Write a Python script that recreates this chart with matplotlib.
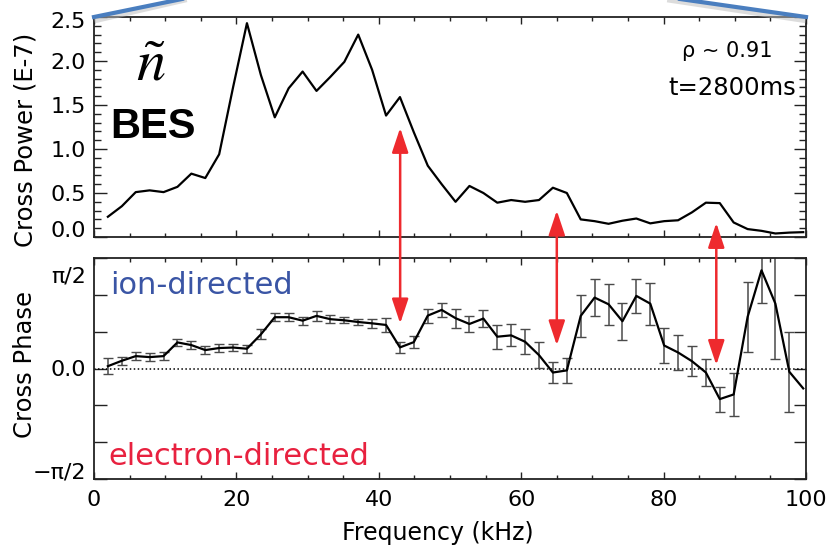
import matplotlib
matplotlib.use('Agg')
import matplotlib.pyplot as plt
import matplotlib.transforms as mtransforms
import numpy as np
from matplotlib.lines import Line2D
from matplotlib.patches import ConnectionPatch
from matplotlib.ticker import MultipleLocator

# frequency bins (kHz)
freq = [1.95, 3.91, 5.86, 7.81, 9.77, 11.72, 13.67, 15.63, 17.58, 19.53,
        21.48, 23.44, 25.39, 27.34, 29.30, 31.25, 33.20, 35.16, 37.11, 39.06,
        41.02, 42.97, 44.92, 46.88, 48.83, 50.78, 52.73, 54.69, 56.64, 58.59,
        60.55, 62.50, 64.45, 66.41, 68.36, 70.31, 72.27, 74.22, 76.17, 78.13,
        80.08, 82.03, 83.98, 85.94, 87.89, 89.84, 91.80, 93.75, 95.70, 97.66,
        99.61]

# cross power (E-7)
cross_power = [0.23, 0.35, 0.51, 0.53, 0.51, 0.57, 0.72, 0.67, 0.94, 1.70,
               2.43, 1.84, 1.36, 1.69, 1.88, 1.66, 1.82, 1.99, 2.30, 1.90,
               1.38, 1.59, 1.19, 0.81, 0.60, 0.40, 0.58, 0.50, 0.39, 0.42,
               0.40, 0.42, 0.56, 0.50, 0.20, 0.18, 0.15, 0.185, 0.21, 0.155,
               0.18, 0.19, 0.28, 0.39, 0.385, 0.165, 0.09, 0.07, 0.04, 0.05,
               0.055]

# cross phase (rad) and its error
cross_phase = [0.033, 0.110, 0.176, 0.162, 0.176, 0.371, 0.333, 0.262, 0.291, 0.298,
               0.281, 0.485, 0.729, 0.729, 0.680, 0.748, 0.701, 0.685, 0.661, 0.642,
               0.619, 0.300, 0.375, 0.752, 0.833, 0.715, 0.633, 0.710, 0.452, 0.471,
               0.380, 0.190, -0.057, -0.027, 0.748, 1.008, 0.913, 0.672, 1.032, 0.922,
               0.327, 0.228, 0.104, -0.057, -0.435, -0.369, 0.734, 1.396, 0.922, -0.047,
               -0.283]
phase_err = [0.115, 0.060, 0.057, 0.057, 0.057, 0.053, 0.053, 0.055, 0.055, 0.053,
             0.055, 0.071, 0.060, 0.055, 0.055, 0.066, 0.055, 0.043, 0.045, 0.063,
             0.100, 0.083, 0.083, 0.100, 0.094, 0.134, 0.115, 0.126, 0.173, 0.157,
             0.179, 0.188, 0.152, 0.180, 0.294, 0.262, 0.295, 0.261, 0.236, 0.298,
             0.251, 0.251, 0.210, 0.196, 0.177, 0.309, 0.496, 0.468, 0.780, 0.567,
             np.nan]

# red arrows linking the two panels
arrow_freq = [43.0, 65.0, 87.4]
arrow_power = [1.24, 0.30, 0.16]
arrow_phase = [0.64, 0.33, 0.05]

W, H = 831, 546
fig = plt.figure(figsize=(W / 100, H / 100), dpi=100)
plt.rcParams['font.family'] = ['DejaVu Sans']
plt.rcParams['mathtext.fontset'] = 'stix'


def box(x0, y0, x1, y1):
    return [x0 / W, 1 - y1 / H, (x1 - x0) / W, (y1 - y0) / H]


ax1 = fig.add_axes(box(94, 17, 806, 237))
ax2 = fig.add_axes(box(94, 258, 806, 479))

for ax in (ax1, ax2):
    ax.set_xlim(0, 100)
    ax.xaxis.set_major_locator(MultipleLocator(20))
    ax.xaxis.set_minor_locator(MultipleLocator(5))
    ax.tick_params(which='both', direction='in', top=True, right=True,
                   width=1.0, color='#222222')
    ax.tick_params(axis='x', which='major', length=5, labelsize=16, pad=8)
    ax.tick_params(axis='x', which='minor', length=3)
    ax.tick_params(axis='y', which='major', length=9, labelsize=16, pad=6)
    ax.tick_params(axis='y', which='minor', length=5)
    for s in ax.spines.values():
        s.set_linewidth(1.3)
        s.set_color('#222222')

# ---- top panel
ax1.plot(freq, cross_power, color='black', lw=1.6)
ax1.set_ylim(0, 2.5)
ax1.set_yticks([0, 0.5, 1.0, 1.5, 2.0, 2.5])
ax1.set_yticklabels(['0.0', '0.5', '1.0', '1.5', '2.0', '2.5'])
ax1.yaxis.set_minor_locator(MultipleLocator(0.1))
ax1.tick_params(axis='x', labelbottom=False)
ax1.set_ylabel('Cross Power (E-7)', fontsize=17.5)
ax1.yaxis.set_label_coords(-0.080, 0.44)

# ---- bottom panel
ax2.axhline(0, color='black', lw=1.1, ls=(0, (1, 1.6)))
ax2.errorbar(freq, cross_phase, yerr=phase_err, color='black', lw=1.6,
             ecolor='#4a4a4a', elinewidth=1.1, capsize=3.5, capthick=1.0)
ax2.set_ylim(-np.pi / 2, np.pi / 2)
ax2.set_yticks(np.pi / 6 * np.arange(-3, 4))
ax2.set_yticklabels(['\u2212\u03c0/2', '', '', '0.0', '', '', '\u03c0/2'])
ax2.set_ylabel('Cross Phase', fontsize=17.5)
ax2.yaxis.set_label_coords(-0.080, 0.52)
ax2.set_xlabel('Frequency (kHz)', fontsize=17)
ax2.xaxis.set_label_coords(0.483, -0.19)


def shift(label, dy):
    off = mtransforms.ScaledTranslation(0, dy / 100, fig.dpi_scale_trans)
    label.set_transform(label.get_transform() + off)


t1 = ax1.yaxis.get_major_ticks()
shift(t1[0].label1, 8)
shift(t1[-1].label1, -3)
t2 = ax2.yaxis.get_major_ticks()
shift(t2[0].label1, 9)
shift(t2[-1].label1, -17)

# ---- annotations
fig.text(151 / W, 1 - 64 / H, r'$\tilde{n}$', fontsize=42, ha='center', va='center')
fig.text(153 / W, 1 - 138 / H, 'BES', fontsize=30, fontweight='bold',
         family=['Liberation Sans', 'DejaVu Sans'], ha='center', va='baseline')
fig.text(727 / W, 1 - 57 / H, '\u03c1 ~ 0.91', fontsize=15, ha='center', va='baseline')
fig.text(732 / W, 1 - 95 / H, 't=2800ms', fontsize=17.5, ha='center', va='baseline')
fig.text(110 / W, 1 - 294 / H, 'ion-directed', fontsize=22, color='#3a55a5', va='baseline')
fig.text(108 / W, 1 - 465 / H, 'electron-directed', fontsize=22, color='#e8213f', va='baseline')

for f, p, ph in zip(arrow_freq, arrow_power, arrow_phase):
    con = ConnectionPatch(xyA=(f, p), coordsA='data', axesA=ax1,
                          xyB=(f, ph), coordsB='data', axesB=ax2,
                          arrowstyle='<|-|>,head_length=1.5,head_width=0.5',
                          mutation_scale=10, color='#ee2a2e', lw=1.8)
    fig.add_artist(con)

# callout lines at the top
fig.add_artist(Line2D([97 / W, 184 / W], [1 - 20 / H, 1 - 0 / H], color='#bbbbbb', lw=4, alpha=0.5))
fig.add_artist(Line2D([94 / W, 182 / W], [1 - 17 / H, 1 + 1 / H], color='#4a7ebf', lw=3))
fig.add_artist(Line2D([803 / W, 670 / W], [1 - 20 / H, 1 - 0 / H], color='#bbbbbb', lw=4, alpha=0.5))
fig.add_artist(Line2D([806 / W, 680 / W], [1 - 17 / H, 1 + 1 / H], color='#4a7ebf', lw=3))

fig.savefig('out.png', dpi=100)
